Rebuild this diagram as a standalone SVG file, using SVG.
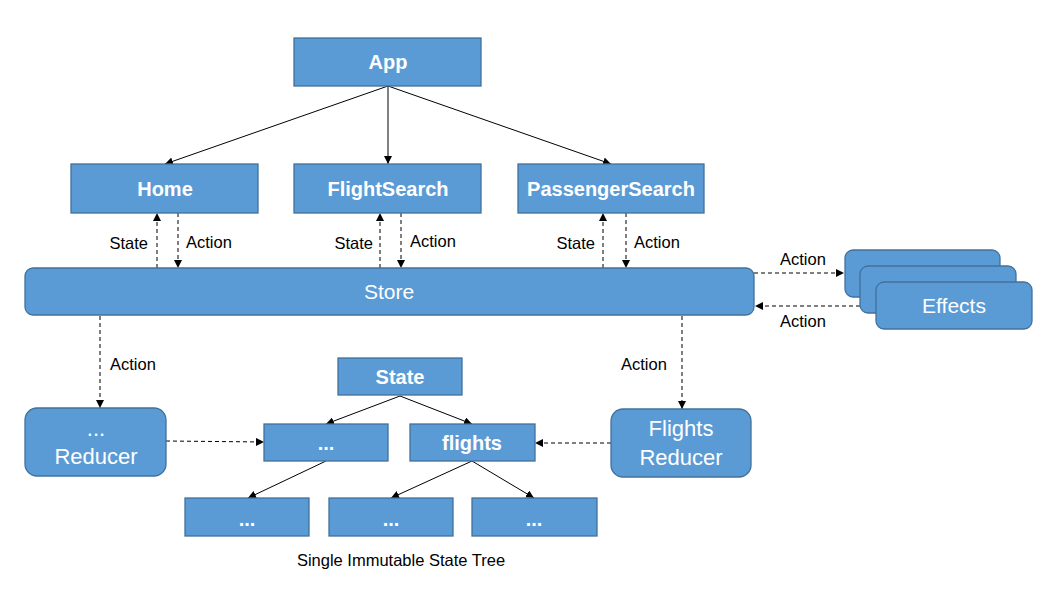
<svg xmlns="http://www.w3.org/2000/svg" width="1050" height="598" viewBox="0 0 1050 598">
<style>
.b{fill:#5B9BD5;stroke:#41719C;stroke-width:1.3}
.t{font-family:"Liberation Sans",Arial,sans-serif;fill:#fff;text-anchor:middle}
.tb{font-weight:bold;font-size:20px}
.tn{font-size:21px}
.tr{font-size:22px}
.l{font-family:"Liberation Sans",Arial,sans-serif;font-size:16.5px;fill:#000}
.s{stroke:#000;stroke-width:1;fill:none}
.d{stroke:#000;stroke-width:1;fill:none;stroke-dasharray:4 3}
</style>
<defs>
<marker id="a" viewBox="0 0 10 10" refX="10" refY="5" markerWidth="8" markerHeight="8" orient="auto" markerUnits="userSpaceOnUse"><path d="M0,0L10,5L0,10z" fill="#000"/></marker>
</defs>
<rect width="1050" height="598" fill="#fff"/>
<g id="connectors">
<path class="s" d="M388,86L165,164" marker-end="url(#a)"/>
<path class="s" d="M388,86L388,164" marker-end="url(#a)"/>
<path class="s" d="M388,86L611,164" marker-end="url(#a)"/>
<path class="d" d="M157,268L157,213" marker-end="url(#a)"/>
<path class="d" d="M178,213L178,268" marker-end="url(#a)"/>
<path class="d" d="M380,268L380,213" marker-end="url(#a)"/>
<path class="d" d="M401,213L401,268" marker-end="url(#a)"/>
<path class="d" d="M603,268L603,213" marker-end="url(#a)"/>
<path class="d" d="M626,213L626,268" marker-end="url(#a)"/>
<path class="d" d="M754,273L844,273" marker-end="url(#a)"/>
<path class="d" d="M860,306L755,306" marker-end="url(#a)"/>
<path class="d" d="M100,316L100,408" marker-end="url(#a)"/>
<path class="d" d="M682,316L682,409" marker-end="url(#a)"/>
<path class="d" d="M166,441L264,442" marker-end="url(#a)"/>
<path class="d" d="M611,443L535,443" marker-end="url(#a)"/>
<path class="s" d="M400,396L326,424" marker-end="url(#a)"/>
<path class="s" d="M400,396L472,424" marker-end="url(#a)"/>
<path class="s" d="M326,461L248,498" marker-end="url(#a)"/>
<path class="s" d="M472,461L391,498" marker-end="url(#a)"/>
<path class="s" d="M472,461L534,498" marker-end="url(#a)"/>
<text class="l" x="148" y="249" text-anchor="end">State</text>
<text class="l" x="186" y="248">Action</text>
<text class="l" x="373" y="249" text-anchor="end">State</text>
<text class="l" x="410" y="247">Action</text>
<text class="l" x="595" y="249" text-anchor="end">State</text>
<text class="l" x="634" y="248">Action</text>
<text class="l" x="780" y="265">Action</text>
<text class="l" x="780" y="327">Action</text>
<text class="l" x="110" y="370">Action</text>
<text class="l" x="621" y="370">Action</text>
</g>
<g id="app"><rect class="b" x="294" y="38" width="187" height="48"/><text class="t tb" x="388" y="69">App</text></g>
<g id="home"><rect class="b" x="71" y="164" width="187" height="49"/><text class="t tb" x="165" y="196">Home</text></g>
<g id="flightsearch"><rect class="b" x="294" y="164" width="187" height="49"/><text class="t tb" x="388" y="196">FlightSearch</text></g>
<g id="passengersearch"><rect class="b" x="518" y="164" width="186" height="49"/><text class="t tb" x="611" y="196">PassengerSearch</text></g>
<g id="store"><rect class="b" x="25" y="268" width="729" height="47" rx="8"/><text class="t tn" x="389" y="299">Store</text></g>
<g id="effects">
<rect class="b" x="845" y="250" width="155" height="47" rx="8"/>
<rect class="b" x="860" y="266" width="156" height="47" rx="8"/>
<rect class="b" x="876" y="282" width="156" height="47" rx="8"/>
<text class="t tn" x="954" y="313">Effects</text>
</g>
<g id="reducer"><rect class="b" x="25" y="408" width="141" height="68" rx="12"/><text class="t tr" x="96" y="436">...</text><text class="t tr" x="96" y="464">Reducer</text></g>
<g id="flightsreducer"><rect class="b" x="611" y="409" width="140" height="68" rx="12"/><text class="t tr" x="681" y="436">Flights</text><text class="t tr" x="681" y="465">Reducer</text></g>
<g id="state"><rect class="b" x="338" y="358" width="124" height="37"/><text class="t tb" x="400" y="384">State</text></g>
<g id="dots1"><rect class="b" x="264" y="424" width="124" height="37"/><text class="t tb" x="326" y="450">...</text></g>
<g id="flights"><rect class="b" x="410" y="424" width="125" height="37"/><text class="t tb" x="472" y="450">flights</text></g>
<g id="dots2"><rect class="b" x="185" y="498" width="124" height="38"/><text class="t tb" x="247" y="526">...</text></g>
<g id="dots3"><rect class="b" x="329" y="498" width="124" height="38"/><text class="t tb" x="391" y="526">...</text></g>
<g id="dots4"><rect class="b" x="472" y="498" width="125" height="38"/><text class="t tb" x="534" y="526">...</text></g>
<text class="l" x="401" y="566" text-anchor="middle">Single Immutable State Tree</text>
</svg>
